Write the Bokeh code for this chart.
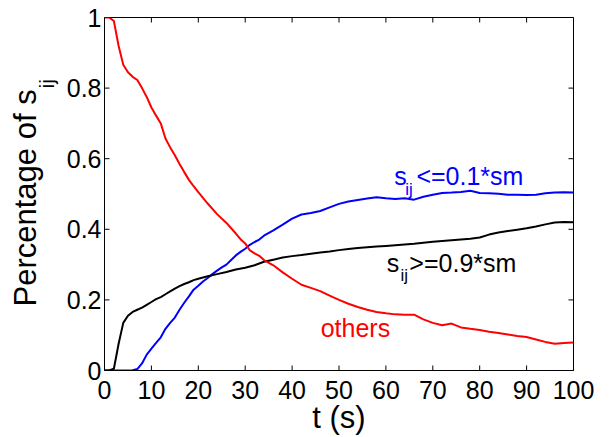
import math

from bokeh.plotting import figure
from bokeh.models import Range1d, FixedTicker, Label, Title
from bokeh.embed import file_html
from bokeh.resources import INLINE

# time axis (s) and fraction of s_ij in each class
t_others = [0, 1, 2, 3, 4, 5, 6, 7, 8, 9, 10, 11, 12, 13, 14, 15, 16, 17, 18, 19, 20,
            22, 24, 26, 28, 29, 30, 31, 32, 33, 34, 36, 38, 40, 42, 44, 46, 48, 50,
            52, 54, 56, 58, 60, 62, 64, 66, 68, 70, 72, 74, 76, 78, 80, 82, 84, 86,
            88, 90, 92, 94, 96, 98, 100]
others = [1.0, 1.0, 0.99, 0.92, 0.866, 0.845, 0.832, 0.823, 0.80, 0.775, 0.745, 0.722,
          0.70, 0.657, 0.632, 0.61, 0.585, 0.562, 0.54, 0.522, 0.505,
          0.473, 0.443, 0.418, 0.388, 0.372, 0.36, 0.34, 0.332, 0.325, 0.313, 0.298,
          0.278, 0.26, 0.243, 0.234, 0.225, 0.212, 0.200,
          0.189, 0.18, 0.172, 0.166, 0.162, 0.159, 0.158, 0.158, 0.145, 0.135, 0.128,
          0.133, 0.122, 0.118, 0.115, 0.11, 0.106, 0.102,
          0.098, 0.095, 0.088, 0.081, 0.076, 0.078, 0.079]

t_low = [0, 2, 4, 6, 7, 8, 9, 10, 11, 12, 13, 14, 15, 16, 17, 18, 19, 20, 21, 22, 23,
         24, 25, 26, 27, 28, 29, 30, 31, 32, 33, 34, 36, 38, 40, 42, 44, 46, 48, 50,
         52, 54, 56, 58, 60, 62, 64, 66, 68, 70, 72, 74, 76, 78, 80, 82, 84, 86, 88,
         90, 92, 94, 96, 98, 100]
low = [0.0, 0.0, 0.0, 0.001, 0.004, 0.02, 0.045, 0.062, 0.078, 0.094, 0.118, 0.135,
       0.15, 0.172, 0.192, 0.21, 0.229, 0.24, 0.252, 0.262, 0.273,
       0.283, 0.292, 0.3, 0.313, 0.326, 0.336, 0.345, 0.356, 0.364, 0.371, 0.382,
       0.397, 0.413, 0.43, 0.442, 0.446, 0.452, 0.462, 0.472,
       0.479, 0.483, 0.487, 0.491, 0.488, 0.486, 0.488, 0.484, 0.492, 0.498, 0.503,
       0.504, 0.506, 0.509, 0.503, 0.502, 0.501, 0.498, 0.498,
       0.497, 0.498, 0.502, 0.504, 0.505, 0.504]

t_high = [0, 1, 2, 3, 4, 5, 6, 7, 8, 9, 10, 11, 12, 13, 14, 15, 16, 17, 18, 19, 20,
          22, 24, 26, 28, 30, 32, 34, 36, 38, 40, 42, 44, 46, 48, 50, 52, 54, 56, 58,
          60, 62, 64, 66, 68, 70, 72, 74, 76, 78, 80, 82, 84, 86, 88, 90, 92, 94, 96,
          98, 100]
high = [0.0, 0.0, 0.005, 0.075, 0.135, 0.155, 0.166, 0.172, 0.178, 0.186, 0.194,
        0.202, 0.208, 0.216, 0.224, 0.232, 0.239, 0.245, 0.25, 0.256, 0.26,
        0.267, 0.273, 0.279, 0.286, 0.291, 0.298, 0.308, 0.314, 0.32, 0.324, 0.327,
        0.331, 0.334, 0.337, 0.341, 0.344, 0.347, 0.349, 0.351,
        0.353, 0.355, 0.357, 0.359, 0.362, 0.365, 0.367, 0.369, 0.371, 0.373, 0.377,
        0.385, 0.391, 0.395, 0.399, 0.403, 0.408, 0.414, 0.419, 0.421, 0.42]

x_ticks = [0, 10, 20, 30, 40, 50, 60, 70, 80, 90, 100]
y_ticks = [0, 0.2, 0.4, 0.6, 0.8, 1]
y_tick_labels = {0: "0", 0.2: "0.2", 0.4: "0.4", 0.6: "0.6", 0.8: "0.8", 1: "1"}

X_MIN, X_MAX = 0, 100
Y_MIN, Y_MAX = 0, 1

FONT = "Liberation Sans"
TICK_SIZE = "25px"
LABEL_SIZE = "31px"
ANNOT_SIZE = "25px"
SUB_SIZE = "17px"
TICK_LEN = 5

p = figure(width=610, height=437, output_backend="svg", toolbar_location=None,
           x_range=Range1d(X_MIN, X_MAX), y_range=Range1d(Y_MIN, Y_MAX),
           min_border_left=104, min_border_right=37, min_border_top=17,
           min_border_bottom=66)
p.background_fill_color = "white"
p.border_fill_color = "white"
p.outline_line_color = "black"
p.outline_line_width = 1
p.grid.visible = False

for ax, ticks in ((p.xaxis[0], x_ticks), (p.yaxis[0], y_ticks)):
    ax.ticker = FixedTicker(ticks=ticks)
    ax.major_tick_in = 0
    ax.major_tick_out = 0
    ax.minor_tick_line_color = None
    ax.axis_line_color = "black"
    ax.major_label_text_font = FONT
    ax.major_label_text_font_size = TICK_SIZE
    ax.major_label_text_color = "black"

p.xaxis[0].major_label_standoff = 10
p.yaxis[0].major_label_standoff = 3
p.yaxis[0].major_label_overrides = y_tick_labels

p.xaxis[0].axis_label = "t (s)"
p.xaxis[0].axis_label_text_font = FONT
p.xaxis[0].axis_label_text_font_size = LABEL_SIZE
p.xaxis[0].axis_label_text_font_style = "normal"
p.xaxis[0].axis_label_text_color = "black"
p.xaxis[0].axis_label_standoff = -2

# inward ticks on all four sides of the box
tick_style = dict(length=TICK_LEN, length_units="screen", line_color="black", line_width=1)
p.ray(x=x_ticks, y=[Y_MIN] * len(x_ticks), angle=math.pi / 2, **tick_style)
p.ray(x=x_ticks, y=[Y_MAX] * len(x_ticks), angle=-math.pi / 2, **tick_style)
p.ray(x=[X_MIN] * len(y_ticks), y=y_ticks, angle=0, **tick_style)
p.ray(x=[X_MAX] * len(y_ticks), y=y_ticks, angle=math.pi, **tick_style)

p.line(t_low, low, line_color="#0000ff", line_width=2)
p.line(t_high, high, line_color="black", line_width=2)
p.line(t_others, others, line_color="#ff0000", line_width=2)


def add_text(x, y, text, size, color="black"):
    p.add_layout(Label(x=x, y=y, text=text, text_font=FONT, text_font_size=size,
                       text_color=color, text_align="left",
                       text_baseline="alphabetic"))


# curve annotations with subscripted s_ij
add_text(61.8, 0.550, "s", ANNOT_SIZE, "#0000ff")
add_text(64.1, 0.513, "ij", SUB_SIZE, "#0000ff")
add_text(66.5, 0.550, "<=0.1*sm", ANNOT_SIZE, "#0000ff")

add_text(60.2, 0.305, "s", ANNOT_SIZE, "black")
add_text(63.1, 0.268, "ij", SUB_SIZE, "black")
add_text(65.0, 0.305, ">=0.9*sm", ANNOT_SIZE, "black")

add_text(46.1, 0.120, "others", ANNOT_SIZE, "#ff0000")

# vertical y title with its subscript, stacked in the left panel
p.add_layout(Title(text="ij", align="left", offset=282, standoff=11,
                   text_font=FONT, text_font_size="21px", text_font_style="normal",
                   text_color="black"), "left")
p.add_layout(Title(text="Percentage of s", align="left", offset=64, standoff=-30,
                   text_font=FONT, text_font_size=LABEL_SIZE, text_font_style="normal",
                   text_color="black"), "left")

open("out.html", "w").write(file_html(p, INLINE))
